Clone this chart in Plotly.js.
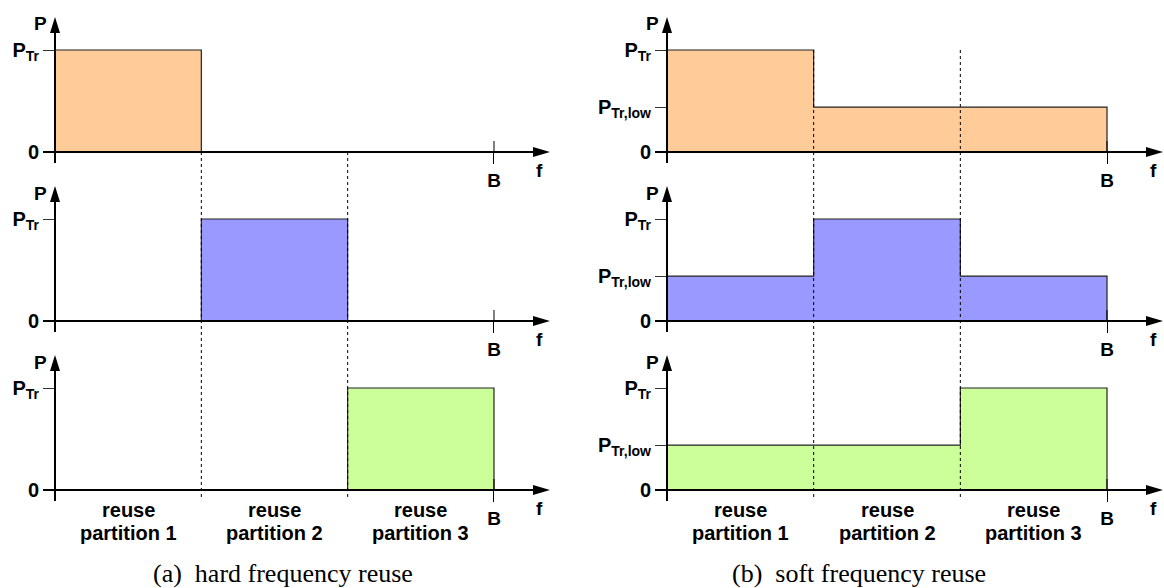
<!DOCTYPE html>
<html>
<head>
<meta charset="utf-8">
<script src="https://cdn.plot.ly/plotly-3.0.1.min.js"></script>
<style>html,body{margin:0;padding:0;background:#fff}#chart{width:1164px;height:588px}</style>
</head>
<body>
<div id="chart"></div>
<script>
// ---------- data ----------
const partitionEdges = [0, 1, 2, 3];            // frequency partition boundaries, B = 3
const bandLabel = 'B';
const partitionLabels = [['reuse', 'partition 1'], ['reuse', 'partition 2'], ['reuse', 'partition 3']];
const hardRow1 = [1, 0, 0];
const hardRow2 = [0, 1, 0];
const hardRow3 = [0, 0, 1];
const softRow1 = [1, 0.44, 0.44];
const softRow2 = [0.44, 1, 0.44];
const softRow3 = [0.44, 0.44, 1];
const hardTickVals = [0, 1];
const hardTickText = ['0', 'P<sub>Tr</sub>'];
const softTickVals = [0, 0.44, 1];
const softTickText = ['0', 'P<sub>Tr,low</sub>', 'P<sub>Tr</sub>'];
const captions = ['(a)\u2002hard frequency reuse', '(b)\u2002soft frequency reuse'];
const rowColors = ['#FFCC99', '#9999FF', '#CCFF99'];

// ---------- layout geometry ----------
const W = 1164, H = 588;
const colOriginPx = [55, 667];
const colUnitPx = [146.33, 146.67];
const colDomainPx = [[0, 582], [582, 1164]];
const rowZeroPx = [152, 321, 490];
const unitY = 102;
const yRange = [-0.3, 1.45];
const arrowXpx = 56, arrowYpx = 135;
const dottedTopPx = [152, 50], dottedBottomPx = [498, 498];
const labelLinePx = [510, 533];
const captionCenterPx = [283, 859];

const columns = [
  {rows: [hardRow1, hardRow2, hardRow3], tv: hardTickVals, tt: hardTickText},
  {rows: [softRow1, softRow2, softRow3], tv: softTickVals, tt: softTickText}
];

const boldFont = {family: 'Liberation Sans, Arial, sans-serif', size: 19, color: '#000', weight: 'bold'};
const yTickFont = {family: 'Liberation Sans, Arial, sans-serif', size: 20, color: '#000', weight: 'bold'};
const labelFont = {family: 'Liberation Sans, Arial, sans-serif', size: 20, color: '#000', weight: 'bold'};
const captionFont = {family: 'Liberation Serif, Times New Roman, serif', size: 26, color: '#000', weight: 'normal'};

const traces = [];
const shapes = [];
const annotations = [];
const layout = {
  width: W, height: H,
  margin: {l: 0, r: 0, t: 0, b: 0},
  paper_bgcolor: '#fff', plot_bgcolor: 'rgba(0,0,0,0)',
  showlegend: false,
  font: boldFont,
  shapes: shapes, annotations: annotations
};

columns.forEach((col, c) => {
  const ux = colUnitPx[c];
  const dom = colDomainPx[c];
  const xr = [(dom[0] - colOriginPx[c]) / ux, (dom[1] - colOriginPx[c]) / ux];
  const B = partitionEdges[partitionEdges.length - 1];
  const tipX = B + arrowXpx / ux;
  const tipY = arrowYpx / unitY;
  col.rows.forEach((vals, r) => {
    const k = c * 3 + r + 1;
    const xa = 'x' + (k === 1 ? '' : k), ya = 'y' + (k === 1 ? '' : k);
    const xKey = 'xaxis' + (k === 1 ? '' : k), yKey = 'yaxis' + (k === 1 ? '' : k);
    const z = rowZeroPx[r];
    layout[xKey] = {
      domain: [dom[0] / W, dom[1] / W], range: xr,
      anchor: 'free', position: 1 - z / H,
      showgrid: false, zeroline: false, showline: false,
      tickvals: [B], ticktext: [bandLabel],
      ticks: 'outside', ticklen: 11, tickwidth: 1, tickcolor: '#000',
      tickfont: boldFont, fixedrange: true
    };
    layout[yKey] = {
      domain: [1 - (z - yRange[0] * unitY) / H, 1 - (z - yRange[1] * unitY) / H],
      range: yRange,
      anchor: 'free', position: colOriginPx[c] / W,
      showgrid: false, zeroline: false, showline: false,
      tickvals: col.tv, ticktext: col.tt,
      ticks: 'outside', ticklen: 12, tickwidth: 1, tickcolor: '#333',
      tickfont: yTickFont, fixedrange: true
    };
    // power step profile
    traces.push({
      type: 'scatter', mode: 'lines', xaxis: xa, yaxis: ya,
      x: partitionEdges.concat([B]),
      y: vals.concat([vals[vals.length - 1], 0]),
      line: {shape: 'hv', color: '#222', width: 1.2},
      fill: 'tozeroy', fillcolor: rowColors[r],
      hoverinfo: 'skip'
    });
    // axis lines
    shapes.push({type: 'line', xref: xa, yref: ya, layer: 'above',
      x0: -12 / ux, x1: tipX - 8 / ux, y0: 0, y1: 0, line: {color: '#000', width: 2}});
    shapes.push({type: 'line', xref: xa, yref: ya, layer: 'above',
      x0: 0, x1: 0, y0: -11 / unitY, y1: tipY - 8 / unitY, line: {color: '#000', width: 2}});
    // arrowheads
    shapes.push({type: 'path', xref: xa, yref: ya, layer: 'above',
      xsizemode: 'pixel', ysizemode: 'pixel', xanchor: tipX, yanchor: 0,
      path: 'M0,0 L-17,5 L-17,-5 Z', fillcolor: '#000', line: {width: 0}});
    shapes.push({type: 'path', xref: xa, yref: ya, layer: 'above',
      xsizemode: 'pixel', ysizemode: 'pixel', xanchor: 0, yanchor: tipY,
      path: 'M0,0 L-5,-16 L5,-16 Z', fillcolor: '#000', line: {width: 0}});
    // B tick crossing the axis
    shapes.push({type: 'line', xref: xa, yref: ya, layer: 'above',
      x0: B, x1: B, y0: 0, y1: 11 / unitY, line: {color: '#000', width: 1}});
    // axis names
    annotations.push({xref: xa, yref: ya, x: 0, y: 128 / unitY, xshift: -15,
      text: 'P', showarrow: false, font: boldFont});
    annotations.push({xref: xa, yref: ya, x: tipX, y: 0, xshift: -10, yshift: -18,
      text: 'f', showarrow: false, font: boldFont});
  });
  const xa1 = 'x' + (c === 0 ? '' : (c * 3 + 1));
  // dotted partition separators
  partitionEdges.slice(1, -1).forEach(e => {
    shapes.push({type: 'line', xref: xa1, yref: 'paper', layer: 'above',
      x0: e, x1: e, y0: 1 - dottedTopPx[c] / H, y1: 1 - dottedBottomPx[c] / H,
      line: {color: '#000', width: 1, dash: 'dot'}});
  });
  // partition labels
  partitionLabels.forEach((lines, i) => {
    lines.forEach((txt, j) => {
      annotations.push({xref: xa1, yref: 'paper',
        x: (partitionEdges[i] + partitionEdges[i + 1]) / 2, y: 1 - labelLinePx[j] / H,
        xanchor: 'center', yanchor: 'middle', text: txt, showarrow: false, font: labelFont});
    });
  });
});

captions.forEach((cap, i) => {
  annotations.push({xref: 'paper', yref: 'paper', x: captionCenterPx[i] / W, y: 1 - 573 / H,
    xanchor: 'center', yanchor: 'middle', text: cap, showarrow: false, font: captionFont});
});

Plotly.newPlot('chart', traces, layout, {staticPlot: true, displayModeBar: false});
</script>
</body>
</html>
